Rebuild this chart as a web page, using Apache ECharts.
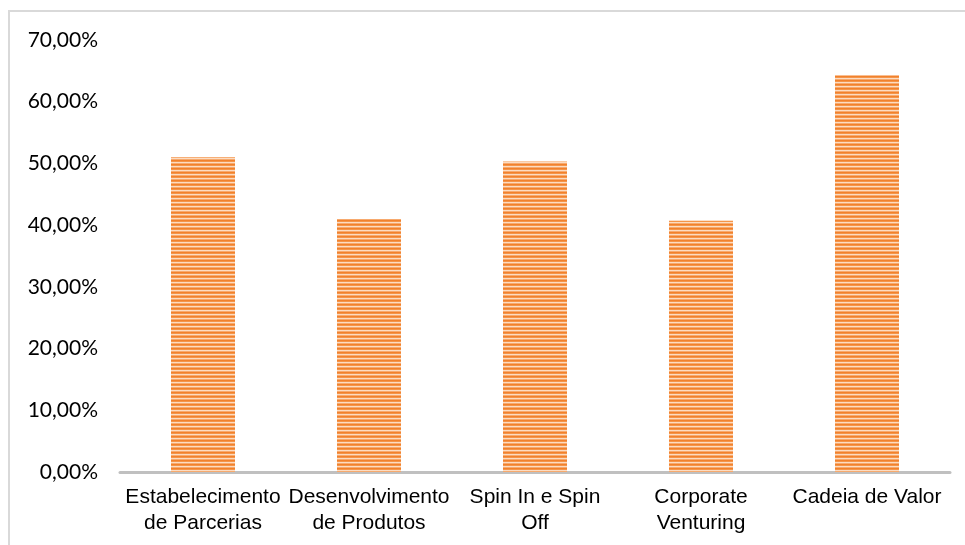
<!DOCTYPE html>
<html lang="pt">
<head>
<meta charset="UTF-8">
<title>Chart</title>
<script src="https://cdn.jsdelivr.net/npm/echarts@6/dist/echarts.min.js"></script>
<style>
    html, body { margin: 0; padding: 0; background: #fff; }
    #frame { position: absolute; left: 8px; top: 10px; width: 957px; height: 535px;
             border-left: 2px solid #d9d9d9; border-top: 2px solid #d9d9d9; box-sizing: border-box; }
    #container { position: absolute; left: 0; top: 0; width: 965px; height: 545px; }
</style>
</head>
<body>
<div id="frame"></div>
<div id="container"></div>
<script type="text/javascript">
    // categorias
    var categories = [
        'Estabelecimento de Parcerias',
        'Desenvolvimento de Produtos',
        'Spin In e Spin Off',
        'Corporate Venturing',
        'Cadeia de Valor'
    ];
    // rótulos do eixo x (quebra de linha como no original)
    var categoryLabels = [
        'Estabelecimento\nde Parcerias',
        'Desenvolvimento\nde Produtos',
        'Spin In e Spin\nOff',
        'Corporate\nVenturing',
        'Cadeia de Valor'
    ];
    // valores em %
    var values = [51.0, 41.0, 50.3, 40.7, 64.3];

    // padrão listrado horizontal (como no Excel)
    var tile = document.createElement('canvas');
    tile.width = 4;
    tile.height = 4;
    var ctx = tile.getContext('2d');
    var rows = ['#f2812c', '#f4954a', '#fcdcc2', '#f7aa6e'];
    rows.forEach(function (c, i) {
        ctx.fillStyle = c;
        ctx.fillRect(0, i, 4, 1);
    });

    var myChart = echarts.init(document.getElementById('container'), null, { renderer: 'canvas' });

    var option = {
        animation: false,
        grid: { left: 120, right: 15, top: 40, bottom: 73 },
        xAxis: {
            type: 'category',
            data: categories,
            axisLine: { show: true, lineStyle: { color: '#c0c0c0', width: 3 } },
            axisTick: { show: false },
            axisLabel: {
                interval: 0,
                margin: 12,
                lineHeight: 26,
                color: '#000',
                fontFamily: 'Liberation Sans',
                fontSize: 21,
                formatter: function (v, i) { return categoryLabels[i]; }
            }
        },
        yAxis: {
            type: 'value',
            min: 0,
            max: 70,
            interval: 10,
            axisLine: { show: false },
            axisTick: { show: false },
            splitLine: { show: false },
            axisLabel: {
                margin: 22,
                color: '#000',
                fontFamily: 'Lato',
                fontSize: 21,
                formatter: function (v) { return v.toFixed(2).replace('.', ',') + '%'; }
            }
        },
        series: [
            {
                type: 'bar',
                data: values,
                barWidth: 64,
                itemStyle: { color: { image: tile, repeat: 'repeat' } }
            }
        ]
    };
    myChart.setOption(option);
</script>
</body>
</html>
